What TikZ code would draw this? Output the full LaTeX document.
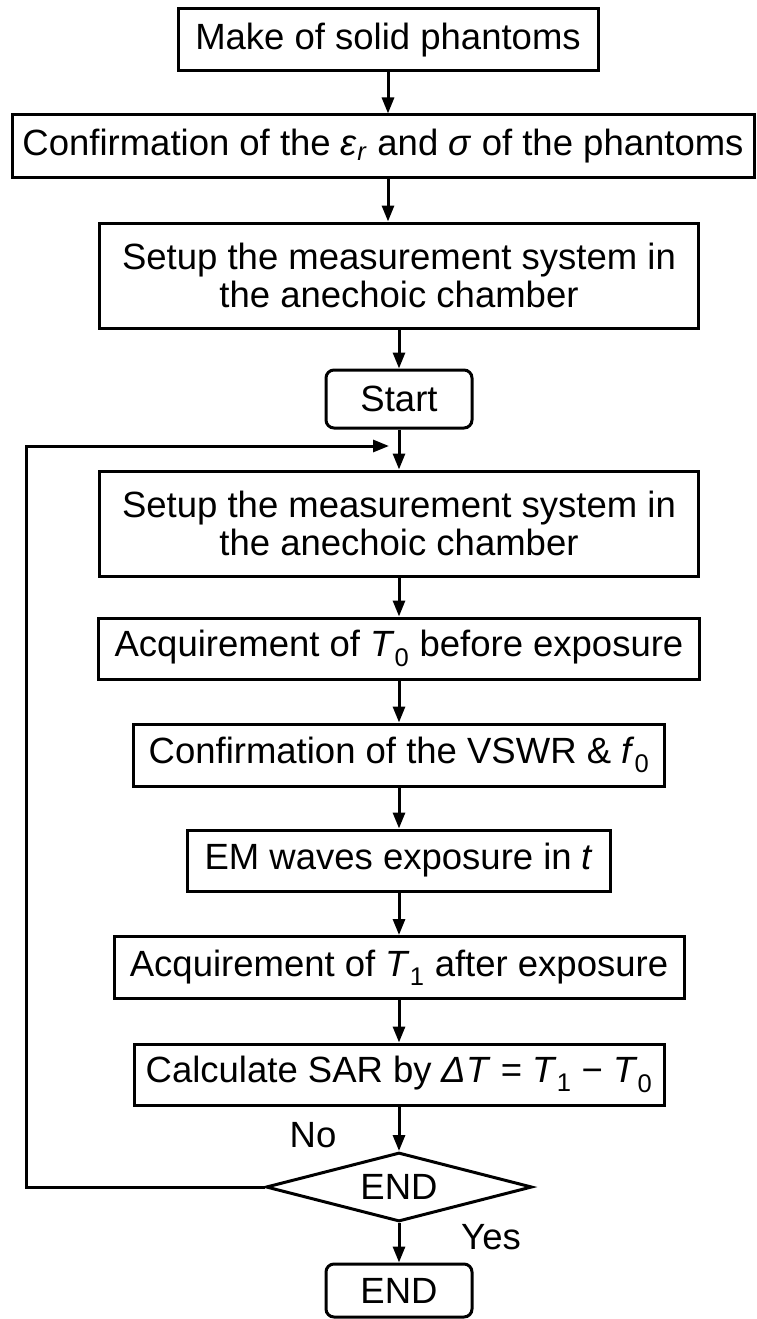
\documentclass[tikz,border=0pt]{standalone}
\usepackage{fontspec}
\setmainfont{Liberation Sans}
\usetikzlibrary{arrows.meta, shapes.geometric}

\begin{document}
\begin{tikzpicture}[x=1pt, y=-1pt, line width=3pt,
    every node/.style={font=\fontsize{36.5}{38}\selectfont},
    block/.style={draw, inner sep=0, minimum height=62, align=center},
    term/.style={block, rounded corners=8, minimum width=146, minimum height=58},
    >={Triangle[length=16pt, width=12pt]}]
    \useasboundingbox (0,0) rectangle (756,1319);
    \node [block, minimum width=420] (m) at (388, 40) {Make of solid phantoms};
    \node [block, minimum width=742] (c) at (383, 146) {Confirmation of the \textit{ε}\textsubscript{\textit{r}} and \textit{σ} of the phantoms};
    \node [block, minimum width=599, minimum height=105] (s1) at (399, 275.5) {Setup the measurement system in\\the anechoic chamber};
    \node [term] (st) at (399, 399) {Start};
    \node [block, minimum width=599, minimum height=105] (s2) at (399, 523.5) {Setup the measurement system in\\the anechoic chamber};
    \node [block, minimum width=601, minimum height=61] (a0) at (399, 648.5) {Acquirement of \textit{T}\textsubscript{0} before exposure};
    \node [block, minimum width=531] (c2) at (399, 755) {Confirmation of the VSWR \& \textit{f}\textsubscript{0}};
    \node [block, minimum width=423, minimum height=61] (em) at (399, 860.5) {EM waves exposure in \textit{t}};
    \node [block, minimum width=570] (a1) at (399, 967.5) {Acquirement of \textit{T}\textsubscript{1} after exposure};
    \node [block, minimum width=530, minimum height=61] (sar) at (399, 1074.5) {Calculate SAR by \textit{ΔT} = \textit{T}\textsubscript{1} − \textit{T}\textsubscript{0}};
    \node [draw, diamond, aspect=3.9, inner sep=0, minimum width=266, minimum height=69] (dec) at (399, 1187) {END};
    \node [term, minimum height=53] (fin) at (399, 1290.5) {END};
    \node (no) at (313, 1135) {No};
    \node (yes) at (491, 1237) {Yes};
    \coordinate (back) at (389, 446);
    \draw [->] (m.south) -- (m.south |- c.north);
    \draw [->] (c.south -| m.south) -- (s1.north -| m.south);
    \draw [->] (s1) -- (st);
    \draw [->] (st) -- (s2);
    \draw [->] (s2) -- (a0);
    \draw [->] (a0) -- (c2);
    \draw [->] (c2) -- (em);
    \draw [->] (em) -- (a1);
    \draw [->] (a1) -- (sar);
    \draw [->] (sar) -- (dec);
    \draw [->] (dec) -- (fin);
    \draw [->] (dec.west) -- ++(-238, 0) |- (back);
\end{tikzpicture}
\end{document}
